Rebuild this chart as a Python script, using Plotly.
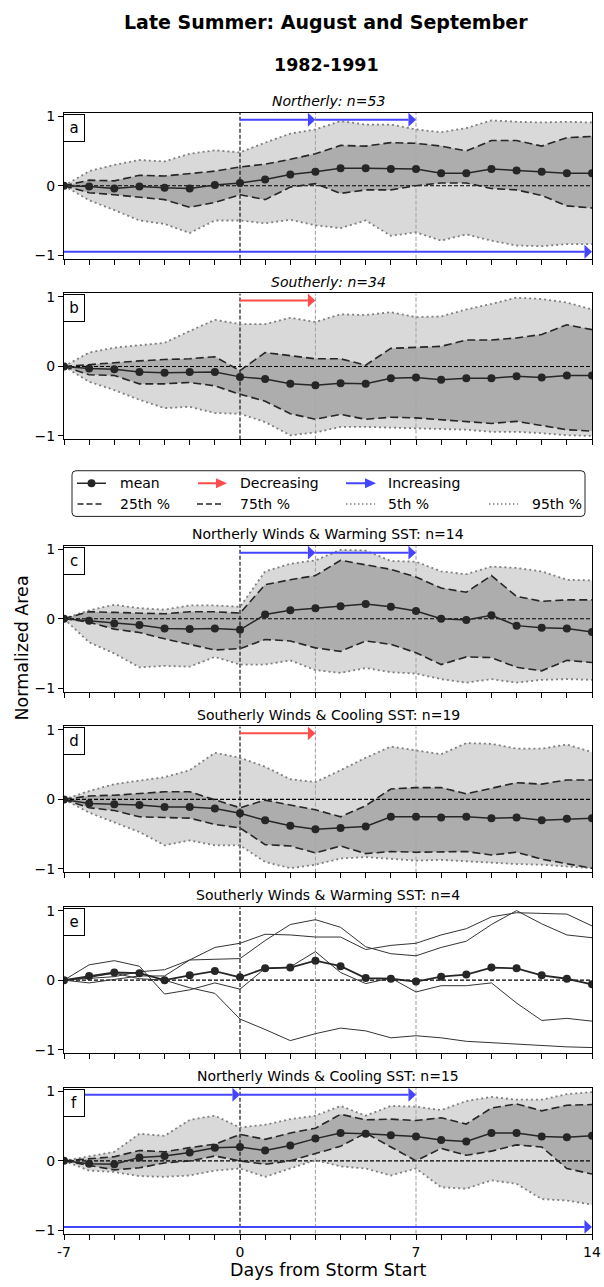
import plotly.graph_objects as go

# ---------------- data ----------------
DAYS = list(range(-7, 15))
TICK_LABELS = {-7: "-7", 0: "0", 7: "7", 14: "14"}
REF_DAYS_BLACK = [0]
REF_DAYS_GRAY = [3, 7]

TITLES = ["Northerly: n=53", "Southerly: n=34",
          "Northerly Winds & Warming SST: n=14", "Southerly Winds & Cooling SST: n=19",
          "Southerly Winds & Warming SST: n=4", "Northerly Winds & Cooling SST: n=15"]
LETTERS = ["a", "b", "c", "d", "e", "f"]
ITALIC = [True, True, False, False, False, False]

a_mean = [0, -0.01, -0.04, -0.01, -0.03, -0.04, 0.01, 0.04, 0.09, 0.16, 0.20, 0.25, 0.25, 0.24, 0.24, 0.18, 0.18, 0.24, 0.22, 0.20, 0.18, 0.18]
a_p75 = [0, 0.08, 0.07, 0.15, 0.14, 0.18, 0.21, 0.27, 0.31, 0.38, 0.46, 0.58, 0.57, 0.62, 0.61, 0.57, 0.50, 0.65, 0.65, 0.57, 0.69, 0.71]
a_p25 = [0, -0.10, -0.13, -0.16, -0.20, -0.31, -0.24, -0.13, -0.20, -0.02, 0.03, -0.11, -0.06, -0.06, 0.00, 0.04, 0.04, -0.04, -0.06, -0.14, -0.29, -0.32]
a_p95 = [0, 0.21, 0.30, 0.37, 0.35, 0.46, 0.51, 0.48, 0.62, 0.75, 0.81, 0.93, 0.88, 0.88, 0.81, 0.77, 0.83, 0.94, 0.92, 0.91, 0.92, 0.91]
a_p05 = [0, -0.21, -0.35, -0.50, -0.55, -0.68, -0.50, -0.50, -0.54, -0.49, -0.57, -0.61, -0.50, -0.72, -0.67, -0.79, -0.70, -0.79, -0.86, -0.87, -0.84, -0.84]

b_mean = [0, -0.03, -0.04, -0.08, -0.09, -0.08, -0.08, -0.15, -0.18, -0.25, -0.27, -0.24, -0.25, -0.17, -0.16, -0.19, -0.17, -0.17, -0.14, -0.16, -0.13, -0.13]
b_p75 = [0, 0.03, 0.06, 0.08, 0.10, 0.11, 0.14, -0.06, 0.20, 0.15, 0.11, 0.11, 0.02, 0.26, 0.28, 0.29, 0.38, 0.38, 0.41, 0.46, 0.60, 0.53]
b_p25 = [0, -0.12, -0.13, -0.25, -0.25, -0.23, -0.28, -0.40, -0.50, -0.68, -0.76, -0.69, -0.76, -0.73, -0.74, -0.77, -0.79, -0.82, -0.79, -0.85, -0.91, -0.93]
b_p95 = [0, 0.20, 0.27, 0.30, 0.34, 0.51, 0.67, 0.61, 0.61, 0.70, 0.64, 0.75, 0.74, 0.78, 0.71, 0.72, 0.82, 0.90, 0.99, 0.97, 0.92, 0.82]
b_p05 = [0, -0.22, -0.34, -0.48, -0.60, -0.58, -0.67, -0.68, -0.80, -0.99, -0.95, -0.87, -0.87, -0.88, -0.89, -0.91, -0.91, -0.94, -0.94, -0.96, -0.99, -1.00]

c_mean = [0, -0.03, -0.07, -0.09, -0.14, -0.15, -0.14, -0.16, 0.06, 0.12, 0.15, 0.18, 0.21, 0.17, 0.11, 0.00, -0.02, 0.05, -0.10, -0.13, -0.14, -0.19]
c_p75 = [0, 0.10, 0.09, 0.08, 0.07, 0.10, 0.10, 0.08, 0.49, 0.56, 0.62, 0.84, 0.77, 0.71, 0.60, 0.44, 0.38, 0.62, 0.32, 0.25, 0.27, 0.27]
c_p25 = [0, -0.05, -0.15, -0.20, -0.29, -0.37, -0.45, -0.43, -0.30, -0.32, -0.42, -0.47, -0.32, -0.37, -0.49, -0.66, -0.55, -0.56, -0.70, -0.75, -0.60, -0.63]
c_p95 = [0, 0.12, 0.20, 0.15, 0.13, 0.19, 0.19, 0.17, 0.68, 0.79, 0.84, 0.99, 0.98, 0.83, 0.82, 0.68, 0.64, 0.75, 0.73, 0.68, 0.56, 0.55]
c_p05 = [0, -0.34, -0.50, -0.70, -0.68, -0.69, -0.55, -0.66, -0.66, -0.60, -0.74, -0.78, -0.71, -0.77, -0.79, -0.87, -0.92, -0.87, -0.92, -0.88, -0.87, -0.88]

d_mean = [0, -0.06, -0.07, -0.08, -0.11, -0.11, -0.13, -0.20, -0.30, -0.38, -0.43, -0.41, -0.39, -0.25, -0.25, -0.26, -0.25, -0.27, -0.26, -0.30, -0.28, -0.27]
d_p75 = [0, 0.05, 0.06, 0.08, 0.11, 0.11, -0.01, -0.12, -0.01, -0.08, -0.15, -0.25, -0.09, 0.15, 0.17, 0.17, 0.08, 0.16, 0.24, 0.22, 0.28, 0.28]
d_p25 = [0, -0.12, -0.16, -0.25, -0.26, -0.27, -0.36, -0.41, -0.65, -0.67, -0.77, -0.67, -0.78, -0.75, -0.76, -0.75, -0.75, -0.80, -0.76, -0.86, -0.93, -0.99]
d_p95 = [0, 0.12, 0.22, 0.27, 0.32, 0.42, 0.67, 0.60, 0.47, 0.29, 0.25, 0.42, 0.60, 0.76, 0.70, 0.65, 0.81, 0.80, 0.73, 0.73, 0.79, 0.68]
d_p05 = [0, -0.19, -0.33, -0.47, -0.66, -0.59, -0.66, -0.66, -0.90, -0.99, -0.94, -0.85, -0.83, -0.85, -0.88, -0.87, -0.89, -0.92, -0.93, -0.94, -0.96, -0.99]

e_mean = [0, 0.06, 0.11, 0.10, 0.00, 0.07, 0.13, 0.04, 0.17, 0.18, 0.28, 0.20, 0.03, 0.02, -0.02, 0.05, 0.08, 0.18, 0.17, 0.07, 0.02, -0.06]
e_storm1 = [0, -0.04, 0.01, 0.06, 0.06, 0.29, 0.30, 0.31, 0.57, 0.80, 0.87, 0.76, 0.48, 0.38, 0.35, 0.47, 0.56, 0.80, 1.00, 0.81, 0.65, 0.61]
e_storm2 = [0, 0.02, 0.05, 0.12, 0.15, 0.29, 0.47, 0.53, 0.66, 0.65, 0.62, 0.62, 0.44, 0.50, 0.53, 0.65, 0.74, 0.91, 0.97, 0.96, 0.95, 0.78]
e_storm3 = [0, 0.22, 0.28, 0.20, -0.20, -0.14, -0.04, -0.13, 0.17, 0.19, 0.41, 0.11, -0.05, 0.03, -0.17, -0.08, -0.08, -0.04, -0.33, -0.58, -0.55, -0.59]
e_storm4 = [0, 0.04, 0.10, 0.02, 0.00, -0.11, -0.19, -0.56, -0.71, -0.87, -0.77, -0.69, -0.73, -0.83, -0.80, -0.83, -0.88, -0.90, -0.92, -0.95, -0.96, -0.97]

f_mean = [0, -0.04, -0.05, 0.05, 0.07, 0.12, 0.19, 0.20, 0.15, 0.22, 0.32, 0.40, 0.39, 0.37, 0.35, 0.30, 0.28, 0.40, 0.40, 0.35, 0.34, 0.36]
f_p75 = [0, 0.03, 0.06, 0.15, 0.13, 0.19, 0.24, 0.38, 0.31, 0.40, 0.47, 0.67, 0.59, 0.60, 0.58, 0.62, 0.53, 0.76, 0.82, 0.72, 0.80, 0.81]
f_p25 = [0, -0.07, -0.13, -0.10, -0.03, 0.00, 0.07, 0.00, -0.05, 0.00, 0.10, 0.21, 0.40, 0.20, 0.00, 0.18, 0.08, 0.14, 0.23, 0.20, -0.11, -0.19]
f_p95 = [0, 0.07, 0.13, 0.39, 0.36, 0.59, 0.65, 0.48, 0.52, 0.60, 0.65, 0.79, 0.65, 0.79, 0.78, 0.73, 0.86, 0.92, 0.88, 0.88, 0.96, 0.99]
f_p05 = [0, -0.14, -0.16, -0.22, -0.23, -0.21, -0.14, -0.11, -0.23, -0.11, 0.01, -0.08, -0.11, -0.21, -0.11, -0.38, -0.40, -0.28, -0.33, -0.55, -0.57, -0.63]

# trend arrows: (start day, end day, y level, kind)
a_arrows = [(0, 3, 0.95, "inc"), (3, 7, 0.95, "inc"), (-7, 14, -0.95, "inc")]
b_arrows = [(0, 3, 0.95, "dec")]
c_arrows = [(0, 3, 0.95, "inc"), (3, 7, 0.95, "inc")]
d_arrows = [(0, 3, 0.95, "dec")]
e_arrows = []
f_arrows = [(-7, 0, 0.95, "inc"), (0, 7, 0.95, "inc"), (-7, 14, -0.95, "inc")]

# ---------------- style ----------------
FONT = "DejaVu Sans"
W, H = 604, 1287
L_PX, R_PX = 64, 592
YLIM = [-1.05, 1.05]
PANEL_TOPS = [108.5, 290.5, 544.5, 726.5, 908.5, 1090.5]
PANEL_H = 147.0
LIGHT = "#d9d9d9"
DARK = "#adadad"
LINE_DARK = "#262626"
DOT_GRAY = "#7f7f7f"
ARROW_COL = {"inc": "#4545ff", "dec": "#ff4d4d"}
HEAD_LEN = 0.3
HEAD_HALF = 0.1


def px_x(px):
    return (px - L_PX) / (R_PX - L_PX)


def px_y(py):
    return 1 - py / H


panels = [
    dict(mean=a_mean, p25=a_p25, p75=a_p75, p05=a_p05, p95=a_p95, arrows=a_arrows),
    dict(mean=b_mean, p25=b_p25, p75=b_p75, p05=b_p05, p95=b_p95, arrows=b_arrows),
    dict(mean=c_mean, p25=c_p25, p75=c_p75, p05=c_p05, p95=c_p95, arrows=c_arrows),
    dict(mean=d_mean, p25=d_p25, p75=d_p75, p05=d_p05, p95=d_p95, arrows=d_arrows),
    dict(mean=e_mean, storms=[e_storm1, e_storm2, e_storm3, e_storm4], arrows=e_arrows),
    dict(mean=f_mean, p25=f_p25, p75=f_p75, p05=f_p05, p95=f_p95, arrows=f_arrows),
]

fig = go.Figure()
annotations = []
layout_axes = {}

for i, p in enumerate(panels):
    n = i + 1
    xa = "x" if n == 1 else f"x{n}"
    ya = "y" if n == 1 else f"y{n}"
    top = PANEL_TOPS[i]
    dom = [px_y(top + PANEL_H), px_y(top)]

    def add(tr):
        tr.update(xaxis=xa, yaxis=ya, hoverinfo="skip", showlegend=False)
        fig.add_trace(tr)

    if "p05" in p:
        add(go.Scatter(x=DAYS, y=p["p05"], mode="lines", line=dict(width=0, color=LIGHT)))
        add(go.Scatter(x=DAYS, y=p["p95"], mode="lines", line=dict(width=0, color=LIGHT),
                       fill="tonexty", fillcolor=LIGHT))
        add(go.Scatter(x=DAYS, y=p["p25"], mode="lines", line=dict(width=0, color=DARK)))
        add(go.Scatter(x=DAYS, y=p["p75"], mode="lines", line=dict(width=0, color=DARK),
                       fill="tonexty", fillcolor=DARK))

    # reference lines
    add(go.Scatter(x=[DAYS[0], DAYS[-1]], y=[0, 0], mode="lines",
                   line=dict(color="black", width=1.1, dash="4px,2px")))
    for d in REF_DAYS_BLACK:
        add(go.Scatter(x=[d, d], y=YLIM, mode="lines",
                       line=dict(color="black", width=1.1, dash="4px,2px")))
    for d in REF_DAYS_GRAY:
        add(go.Scatter(x=[d, d], y=YLIM, mode="lines",
                       line=dict(color="#a6a6a6", width=1.1, dash="4px,2px")))

    if "p05" in p:
        for key in ("p05", "p95"):
            add(go.Scatter(x=DAYS, y=p[key], mode="lines",
                           line=dict(color=DOT_GRAY, width=1.8, dash="2px,3px")))
        for key in ("p25", "p75"):
            add(go.Scatter(x=DAYS, y=p[key], mode="lines",
                           line=dict(color=LINE_DARK, width=1.6, dash="8px,4px")))
    if "storms" in p:
        for s in p["storms"]:
            add(go.Scatter(x=DAYS, y=s, mode="lines", line=dict(color="#333333", width=1)))

    add(go.Scatter(x=DAYS, y=p["mean"], mode="lines+markers",
                   line=dict(color=LINE_DARK, width=1.8 if "storms" in p else 1.5),
                   marker=dict(size=8, color=LINE_DARK)))

    for (s, e, yv, kind) in p["arrows"]:
        col = ARROW_COL[kind]
        add(go.Scatter(x=[s, e - HEAD_LEN], y=[yv, yv], mode="lines",
                       line=dict(color=col, width=2)))
        add(go.Scatter(x=[e - HEAD_LEN, e, e - HEAD_LEN, e - HEAD_LEN],
                       y=[yv + HEAD_HALF, yv, yv - HEAD_HALF, yv + HEAD_HALF],
                       mode="lines", fill="toself", fillcolor=col, line=dict(width=0, color=col)))

    last = (n == len(panels))
    layout_axes["xaxis" if n == 1 else f"xaxis{n}"] = dict(
        domain=[0, 1], range=[DAYS[0], DAYS[-1]], anchor=ya,
        tickmode="array", tickvals=DAYS,
        ticktext=[TICK_LABELS.get(d, "") for d in DAYS],
        showticklabels=last, ticks="outside", ticklen=5, tickwidth=1, tickcolor="black",
        showline=True, linecolor="black", linewidth=1, mirror=True,
        showgrid=False, zeroline=False, tickfont=dict(size=14, family=FONT, color="black"),
    )
    layout_axes["yaxis" if n == 1 else f"yaxis{n}"] = dict(
        domain=dom, range=YLIM, anchor=xa,
        tickmode="array", tickvals=[-1, 0, 1], ticktext=["\u22121", "0", "1"],
        ticks="outside", ticklen=5, tickwidth=1, tickcolor="black",
        showline=True, linecolor="black", linewidth=1, mirror=True,
        showgrid=False, zeroline=False, tickfont=dict(size=14, family=FONT, color="black"),
    )

    # panel title
    ttl = f"<i>{TITLES[i]}</i>" if ITALIC[i] else TITLES[i]
    annotations.append(dict(text=ttl, xref="paper", yref="paper",
                            x=px_x((L_PX + R_PX) / 2), y=px_y(top - 12),
                            xanchor="center", yanchor="middle", showarrow=False,
                            font=dict(size=14, family=FONT, color="black")))
    # panel letter
    annotations.append(dict(text=LETTERS[i], xref="paper", yref="paper",
                            x=px_x(63), y=px_y(top + 1), xanchor="left", yanchor="top",
                            showarrow=False, bgcolor="white", bordercolor="black",
                            borderwidth=1, borderpad=1, width=18, height=24,
                            font=dict(size=15, family=FONT, color="black")))

# ---------------- legend (own hidden axis in pixel units) ----------------
LEG_TOP, LEG_BOT = 460, 525
layout_axes["xaxis7"] = dict(domain=[0, 1], range=[L_PX, R_PX], visible=False, anchor="y7", fixedrange=True)
layout_axes["yaxis7"] = dict(domain=[px_y(LEG_BOT), px_y(LEG_TOP)], range=[LEG_BOT, LEG_TOP],
                             visible=False, anchor="x7", fixedrange=True)


def leg(tr):
    tr.update(xaxis="x7", yaxis="y7", hoverinfo="skip", showlegend=False)
    fig.add_trace(tr)


R1, R2 = 481.7, 502.5
leg(go.Scatter(x=[77, 106], y=[R1, R1], mode="lines", line=dict(color=LINE_DARK, width=1.5)))
leg(go.Scatter(x=[91.5], y=[R1], mode="markers", marker=dict(size=8, color=LINE_DARK)))
for (x0, x1, kind) in [(198, 227, "dec"), (346, 376, "inc")]:
    col = ARROW_COL[kind]
    leg(go.Scatter(x=[x0, x1 - 11], y=[R1, R1], mode="lines", line=dict(color=col, width=2)))
    leg(go.Scatter(x=[x1 - 11, x1, x1 - 11, x1 - 11], y=[R1 - 5, R1, R1 + 5, R1 - 5],
                   mode="lines", fill="toself", fillcolor=col, line=dict(width=0, color=col)))
for (x0, x1) in [(77.5, 104), (197, 223)]:
    leg(go.Scatter(x=[x0, x1], y=[R2, R2], mode="lines",
                   line=dict(color=LINE_DARK, width=1.6, dash="6px,3px")))
for (x0, x1) in [(346, 375), (489, 518)]:
    leg(go.Scatter(x=[x0, x1], y=[R2, R2], mode="lines",
                   line=dict(color=DOT_GRAY, width=1.6, dash="1.5px,2.5px")))

for (tx, ty, txt) in [(118, R1, "mean"), (237.6, R1, "Decreasing"), (386.4, R1, "Increasing"),
                      (118, R2, "25th %"), (237.6, R2, "75th %"), (386.4, R2, "5th %"),
                      (529.5, R2, "95th %")]:
    annotations.append(dict(text=txt, xref="x7", yref="y7", x=tx, y=ty, xanchor="left",
                            yanchor="middle", showarrow=False,
                            font=dict(size=14, family=FONT, color="black")))

bx0, bx1, by0, by1, rr = 72, 585, 469, 515, 4
box_path = (f"M {bx0 + rr},{by0} L {bx1 - rr},{by0} Q {bx1},{by0} {bx1},{by0 + rr} "
            f"L {bx1},{by1 - rr} Q {bx1},{by1} {bx1 - rr},{by1} L {bx0 + rr},{by1} "
            f"Q {bx0},{by1} {bx0},{by1 - rr} L {bx0},{by0 + rr} Q {bx0},{by0} {bx0 + rr},{by0} Z")
shapes = [dict(type="path", path=box_path, xref="x7", yref="y7",
               line=dict(color="#222222", width=1), fillcolor="rgba(255,255,255,0.8)", layer="below")]

# ---------------- titles ----------------
annotations.append(dict(text="<b>Late Summer: August and September</b>", xref="paper", yref="paper",
                        x=px_x(326), y=px_y(17), xanchor="center", yanchor="middle", showarrow=False,
                        font=dict(size=19, family=FONT, color="black")))
annotations.append(dict(text="<b>1982-1991</b>", xref="paper", yref="paper",
                        x=px_x(326), y=px_y(60), xanchor="center", yanchor="middle", showarrow=False,
                        font=dict(size=17.5, family=FONT, color="black")))
annotations.append(dict(text="Days from Storm Start", xref="paper", yref="paper",
                        x=px_x(328), y=px_y(1274), xanchor="center", yanchor="middle", showarrow=False,
                        font=dict(size=17.5, family=FONT, color="black")))
annotations.append(dict(text="Normalized Area", xref="paper", yref="paper",
                        x=px_x(22), y=px_y(648), xanchor="center", yanchor="middle", showarrow=False,
                        textangle=-90, font=dict(size=17.5, family=FONT, color="black")))

fig.update_layout(
    width=W, height=H,
    margin=dict(l=L_PX, r=W - R_PX, t=0, b=0),
    plot_bgcolor="white", paper_bgcolor="white",
    showlegend=False,
    font=dict(family=FONT, color="black"),
    annotations=annotations, shapes=shapes,
    **layout_axes,
)

# remove the default page margin so the figure sits exactly in the window
fig.write_html("out.html",
               config={"displayModeBar": False, "staticPlot": True},
               post_script="document.body.style.margin='0px';document.body.style.overflow='hidden';")
